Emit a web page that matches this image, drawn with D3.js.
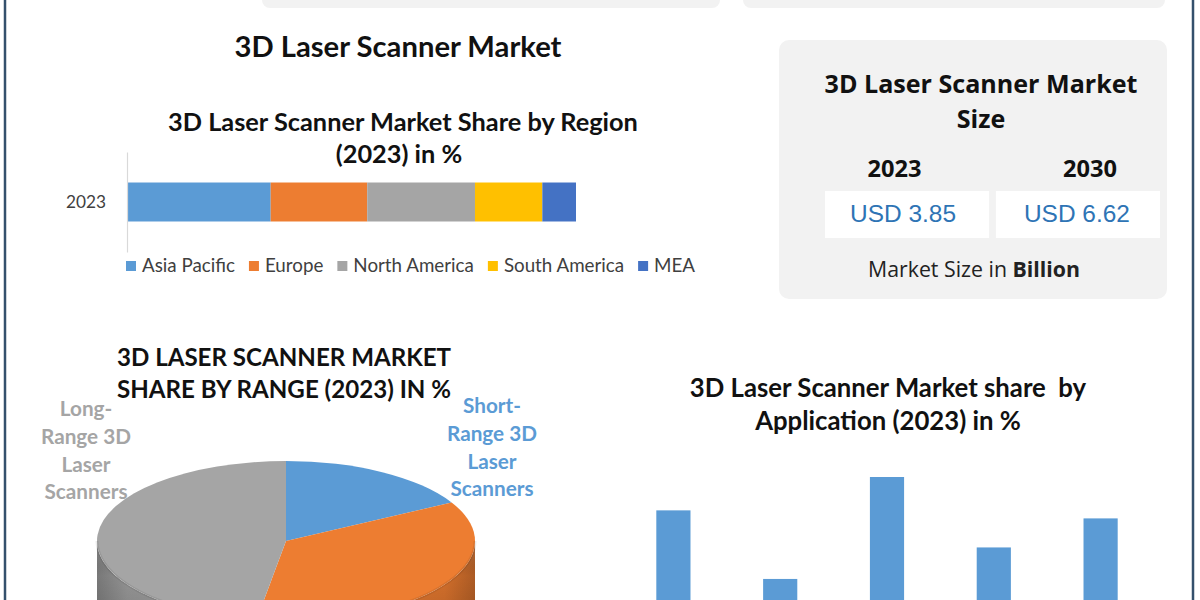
<!DOCTYPE html>
<html><head><meta charset="utf-8">
<script src="https://cdn.jsdelivr.net/npm/d3@7"></script>
<style>html,body{margin:0;padding:0;background:#fff}svg{display:block}</style>
</head><body>
<svg id="c" width="1200" height="600"></svg>
<script>
// ---------------- DATA ----------------
const regionYear = ["2023"];
const regionCategories = ["Asia Pacific", "Europe", "North America", "South America", "MEA"];
const regionShares = [32, 21.5, 24, 15, 7.5];
const regionColors = ["#5b9bd5", "#ed7d31", "#a5a5a5", "#ffc000", "#4472c4"];

const rangeCategories = ["Short-Range 3D Laser Scanners", "Mid-Range 3D Laser Scanners", "Long-Range 3D Laser Scanners"];
const rangeShares = [17, 35.5, 47.5];
const rangeColors = ["#5b9bd5", "#ed7d31", "#a5a5a5"];
const rangeLabelLines = [["Short-", "Range 3D", "Laser", "Scanners"], null, ["Long-", "Range 3D", "Laser", "Scanners"]];

const appCategories = ["Reverse Engineering", "Virtual Simulation", "Quality Control & Inspection", "Healthcare", "Others"];
const appShares = [22.6, 11.5, 28, 16.6, 21.3];

const marketYears = ["2023", "2030"];
const marketValues = [3.85, 6.62];

// ---------------- HELPERS ----------------
const svg = d3.select("#c");
const F_CAL = "Lato, 'Open Sans', sans-serif";
const F_SEG = "'Open Sans', 'Noto Sans', sans-serif";
const F_ARI = "'Liberation Sans', Arial, sans-serif";

function fit(sel, target) {
  const n = sel.node();
  const fs = parseFloat(sel.attr("font-size"));
  const w = n.getComputedTextLength();
  sel.attr("font-size", (fs * target / w).toFixed(2));
  return fs * target / w;
}
function txt(g, x, y, s, o) {
  const t = g.append("text").attr("x", x).attr("y", y).attr("text-anchor", o.anchor || "middle")
    .attr("font-family", o.font).attr("font-weight", o.weight || 400).attr("font-size", o.size || 20)
    .attr("fill", o.fill || "#000").text(s);
  if (o.w) fit(t, o.w);
  return t;
}
function lines(g, xs, ys, arr, o, refIdx, target) {
  const ts = arr.map((s, i) => txt(g, Array.isArray(xs) ? xs[i] : xs, ys[i], s, Object.assign({}, o, {w: null})));
  const fs = fit(ts[refIdx], target);
  ts.forEach(t => t.attr("font-size", fs.toFixed(2)));
  return ts;
}

// ---------------- FRAME ----------------
svg.append("rect").attr("x", 262).attr("y", -12).attr("width", 458).attr("height", 20).attr("rx", 8).attr("fill", "#f2f2f2");
svg.append("rect").attr("x", 743).attr("y", -12).attr("width", 422).attr("height", 20).attr("rx", 8).attr("fill", "#f2f2f2");
svg.append("line").attr("x1", 5).attr("x2", 5).attr("y1", 0).attr("y2", 600).attr("stroke", "#34506c").attr("stroke-width", 2.5);
svg.append("line").attr("x1", 1193).attr("x2", 1193).attr("y1", 0).attr("y2", 600).attr("stroke", "#34506c").attr("stroke-width", 2.5);

// ---------------- MAIN TITLE ----------------
txt(svg, 398, 57, "3D Laser Scanner Market", {font: F_CAL, weight: 700, size: 24, fill: "#111", w: 327});

// ---------------- REGION STACKED BAR ----------------
const gR = svg.append("g");
lines(gR, [403, 399], [131, 163], ["3D Laser Scanner Market Share by Region", "(2023) in %"],
  {font: F_CAL, weight: 700, size: 22, fill: "#111"}, 0, 470);

const xR = d3.scaleLinear().domain([0, 100]).range([127, 576]);
const yR = d3.scaleBand().domain(regionYear).range([152, 252]).padding(0.439);
const row = {year: regionYear[0]};
regionCategories.forEach((c, i) => row[c] = regionShares[i]);
const stacked = d3.stack().keys(regionCategories)([row]);
gR.selectAll("rect.seg").data(stacked).join("rect").attr("class", "seg")
  .attr("x", d => xR(d[0][0])).attr("width", d => xR(d[0][1]) - xR(d[0][0]))
  .attr("y", d => yR(d[0].data.year)).attr("height", yR.bandwidth())
  .attr("fill", (d, i) => regionColors[i]);
const axR = gR.append("g").attr("transform", `translate(${xR(0)},0)`)
  .call(d3.axisLeft(yR).tickSize(0).tickPadding(21));
axR.select(".domain").attr("stroke", "#d9d9d9").attr("stroke-width", 1.2);
axR.selectAll("text").attr("font-family", F_CAL).attr("font-size", 15.5).attr("fill", "#404040")
  .each(function () { fit(d3.select(this), 40); });

// legend
const gL = gR.append("g");
let lx = 126;
let legendFs = null;
regionCategories.forEach((c, i) => {
  gL.append("rect").attr("x", lx).attr("y", 261).attr("width", 10).attr("height", 10).attr("fill", regionColors[i]);
  const t = gL.append("text").attr("x", lx + 16).attr("y", 272).attr("font-family", F_CAL)
    .attr("font-size", legendFs || 16).attr("fill", "#404040").text(c);
  if (i === 0) legendFs = fit(t, 93);
  lx += 16 + t.node().getComputedTextLength() + 14;
});

// ---------------- MARKET SIZE BOX ----------------
const gM = svg.append("g");
gM.append("rect").attr("x", 779).attr("y", 40).attr("width", 388).attr("height", 259).attr("rx", 10).attr("fill", "#f2f2f2");
lines(gM, 981, [93, 128], ["3D Laser Scanner Market", "Size"], {font: F_SEG, weight: 700, size: 22, fill: "#111"}, 0, 313);
const xM = d3.scaleBand().domain(marketYears).range([825, 1160]).paddingInner(0.04);
const yearShift = [-12.5, 12];
const usdShift = [-4, -1];
marketYears.forEach((yr, i) => {
  txt(gM, xM(yr) + xM.bandwidth() / 2 + yearShift[i], 177, yr, {font: F_SEG, weight: 700, size: 22, fill: "#111", w: 54});
  gM.append("rect").attr("x", xM(yr)).attr("y", 191).attr("width", xM.bandwidth()).attr("height", 47).attr("fill", "#fff");
  txt(gM, xM(yr) + xM.bandwidth() / 2 + usdShift[i], 222, "USD " + d3.format(".2f")(marketValues[i]),
    {font: F_ARI, weight: 400, size: 22, fill: "#2e74b5", w: 106});
});
const tB = gM.append("text").attr("x", 974).attr("y", 277).attr("text-anchor", "middle")
  .attr("font-family", F_SEG).attr("font-size", 19).attr("fill", "#222");
tB.append("tspan").text("Market Size in ");
tB.append("tspan").attr("font-weight", 700).text("Billion");
fit(tB, 212);

// ---------------- 3D PIE (RANGE) ----------------
const gP = svg.append("g");
lines(gP, 284, [366, 398], ["3D LASER SCANNER MARKET", "SHARE BY RANGE (2023) IN %"],
  {font: F_CAL, weight: 700, size: 22, fill: "#111"}, 1, 334);
lines(gP, 86, [416, 444, 472, 499], rangeLabelLines[2], {font: F_CAL, weight: 700, size: 19, fill: "#a5a5a5"}, 1, 90);
lines(gP, 492, [413, 441, 469, 496], rangeLabelLines[0], {font: F_CAL, weight: 700, size: 19, fill: "#5b9bd5"}, 1, 90);

const cx = 286, cy = 541, rx = 189, ry = 80, depth = 60;
const arcs = d3.pie().sort(null).value(d => d)(rangeShares);
const defs = svg.append("defs");
rangeColors.forEach((c, i) => {
  const col = d3.color(c);
  const gr = defs.append("linearGradient").attr("id", "wall" + i).attr("gradientUnits", "userSpaceOnUse")
    .attr("x1", cx - rx).attr("x2", cx + rx).attr("y1", 0).attr("y2", 0);
  [[0, col.darker(0.9)], [0.08, col.darker(0.35)], [0.5, col.brighter(0.05)], [0.92, col.darker(0.35)], [1, col.darker(0.9)]]
    .forEach(([o, k]) => gr.append("stop").attr("offset", o).attr("stop-color", k.formatHex()));
});
const vg = defs.append("linearGradient").attr("id", "wallShade").attr("x1", 0).attr("x2", 0).attr("y1", 0).attr("y2", 1);
vg.append("stop").attr("offset", 0).attr("stop-color", "#fff").attr("stop-opacity", 0.18);
vg.append("stop").attr("offset", 0.25).attr("stop-color", "#000").attr("stop-opacity", 0.0);
vg.append("stop").attr("offset", 1).attr("stop-color", "#000").attr("stop-opacity", 0.25);

const ept = (a, dy) => [cx + rx * Math.sin(a), cy - ry * Math.cos(a) + dy];
function wallPath(a0, a1) {
  const s = Math.max(a0, Math.PI / 2), e = Math.min(a1, 3 * Math.PI / 2);
  if (s >= e) return null;
  const n = 60, pts = [];
  for (let k = 0; k <= n; k++) pts.push(ept(s + (e - s) * k / n, 0));
  for (let k = n; k >= 0; k--) pts.push(ept(s + (e - s) * k / n, depth));
  return "M" + pts.map(p => p[0].toFixed(2) + "," + p[1].toFixed(2)).join("L") + "Z";
}
arcs.forEach((a, i) => {
  const d = wallPath(a.startAngle, a.endAngle);
  if (!d) return;
  gP.append("path").attr("d", d).attr("fill", `url(#wall${i})`);
  gP.append("path").attr("d", d).attr("fill", "url(#wallShade)");
});
const arcGen = d3.arc().innerRadius(0).outerRadius(rx);
gP.append("g").attr("transform", `translate(${cx},${cy}) scale(1,${ry / rx})`)
  .selectAll("path").data(arcs).join("path").attr("d", arcGen).attr("fill", (d, i) => rangeColors[i]);
const rim = d3.range(0, 61).map(k => ept(Math.PI / 2 + Math.PI * k / 60, 0));
gP.append("path").attr("d", d3.line()(rim)).attr("fill", "none").attr("stroke", "#000").attr("stroke-opacity", 0.08).attr("stroke-width", 3);

// ---------------- APPLICATION BARS ----------------
const gA = svg.append("g");
lines(gA, 888, [397, 430], ["3D Laser Scanner Market share  by", "Application (2023) in %"],
  {font: F_CAL, weight: 700, size: 22, fill: "#111"}, 0, 390);
gA.selectAll("text").attr("xml:space", "preserve").style("white-space", "pre");
const xA = d3.scaleBand().domain(appCategories).range([620, 1154]).paddingInner(0.68).paddingOuter(0.34);
const yA = d3.scaleLinear().domain([0, 28]).range([650, 477]);
gA.selectAll("rect.bar").data(appShares).join("rect").attr("class", "bar")
  .attr("x", (d, i) => xA(appCategories[i])).attr("width", xA.bandwidth())
  .attr("y", d => yA(d)).attr("height", d => yA(0) - yA(d)).attr("fill", "#5b9bd5");
</script>
</body></html>
